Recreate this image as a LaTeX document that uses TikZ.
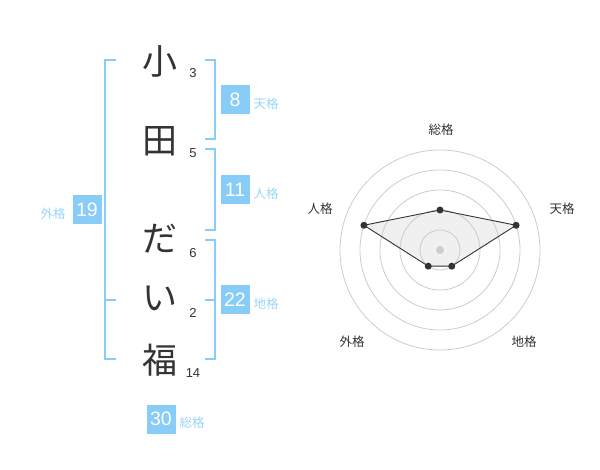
\documentclass[tikz,border=0pt]{standalone}
\usepackage{fontspec}
\setmainfont{Liberation Sans}
\newfontfamily\jp{Noto Sans CJK JP}
\definecolor{brk}{HTML}{88CCF8}
\definecolor{lbl}{HTML}{99D5F9}
\definecolor{ink}{HTML}{333333}
\definecolor{ring}{HTML}{CCCCCC}
\tikzset{
  kanji/.style={inner sep=0pt, text=ink, font=\jp\fontsize{35}{35}\selectfont},
  strokes/.style={inner sep=0pt, text=ink, font=\fontsize{13}{13}\selectfont},
  kbox/.style={fill=brk, text=white, minimum width=29pt, minimum height=29pt, inner sep=0pt, font=\fontsize{19.5}{19.5}\selectfont},
  klabel/.style={inner sep=0pt, text=lbl, font=\jp\fontsize{12.5}{12.5}\selectfont},
  bracket/.style={draw=brk, line width=2pt},
  axislabel/.style={inner sep=0pt, text=ink, font=\jp\fontsize{12.5}{12.5}\selectfont},
  ringline/.style={draw=ring, line width=0.8pt},
  dot/.style={circle, fill=ink, inner sep=0pt, minimum size=7pt},
}
\begin{document}
\begin{tikzpicture}[x=1pt, y=-1pt]
\useasboundingbox (0,0) rectangle (600,470);
% name characters
\node[kanji] (c1) at (160,61) {小};
\node[kanji] (c2) at (160,141) {田};
\node[kanji] (c3) at (160,239) {だ};
\node[kanji] (c4) at (160,298) {い};
\node[kanji] (c5) at (160,360) {福};
% stroke counts
\node[strokes] (s1) at (193,73) {3};
\node[strokes] (s2) at (193,153) {5};
\node[strokes] (s3) at (193,253) {6};
\node[strokes] (s4) at (193,313) {2};
\node[strokes] (s5) at (193,373) {14};
% brackets
\draw[bracket] (205,60) -- (215,60) -- (215,139) -- (205,139);
\draw[bracket] (205,149) -- (215,149) -- (215,230) -- (205,230);
\draw[bracket] (205,240) -- (215,240) -- (215,359) -- (205,359);
\draw[bracket] (205,300) -- (215,300);
\draw[bracket] (116,60) -- (105,60) -- (105,359) -- (116,359);
\draw[bracket] (105,300) -- (116,300);
% boxes
\node[kbox] (b1) at (235,100) {8};
\node[klabel] (l1) at (266,104) {天格};
\node[kbox] (b2) at (235,190) {11};
\node[klabel] (l2) at (266,194) {人格};
\node[kbox] (b3) at (235,300) {22};
\node[klabel] (l3) at (266,304) {地格};
\node[kbox] (b4) at (87,210) {19};
\node[klabel] (l4) at (53,214) {外格};
\node[kbox] (b5) at (161,419) {30};
\node[klabel] (l5) at (192,423) {総格};
% radar chart
\begin{scope}[shift={(440,250)}, yscale=-1]
  \coordinate (p1) at (90:40);
  \coordinate (p2) at (18:80);
  \coordinate (p3) at (-54:20);
  \coordinate (p4) at (-126:20);
  \coordinate (p5) at (162:80);
  \fill[black!6] (p1) -- (p2) -- (p3) -- (p4) -- (p5) -- cycle;
  \foreach \r in {20,40,60,80,100} \draw[ringline] (0,0) circle[radius=\r];
  \fill[ring] (0,0) circle[radius=4];
  \draw[ink, line width=0.9pt] (p1) -- (p2) -- (p3) -- (p4) -- (p5) -- cycle;
  \foreach \p in {p1,p2,p3,p4,p5} \node[dot] at (\p) {};
\end{scope}
\node[axislabel] (a1) at (441,130) {総格};
\node[axislabel] (a2) at (562,209) {天格};
\node[axislabel] (a3) at (524,342) {地格};
\node[axislabel] (a4) at (352,342) {外格};
\node[axislabel] (a5) at (320,209) {人格};
\end{tikzpicture}
\end{document}
